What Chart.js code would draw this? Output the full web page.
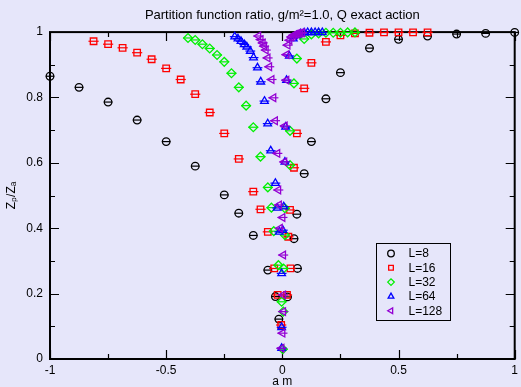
<!DOCTYPE html>
<html>
<head>
<meta charset="utf-8">
<script src="https://cdn.jsdelivr.net/npm/chart.js@4.4.1/dist/chart.umd.min.js"></script>
<style>
html, body { margin: 0; padding: 0; background: #e6e6fa; }
</style>
</head>
<body>
<canvas id="c" width="521" height="387"></canvas>
<script>
'use strict';
const titleText = 'Partition function ratio, g/m\u00b2=1.0, Q exact action';
const seriesLabels = ['L=8', 'L=16', 'L=32', 'L=64', 'L=128'];
const xTickValues = [-1, -0.5, 0, 0.5, 1];
const yTickValues = [0, 0.2, 0.4, 0.6, 0.8, 1];

// a m (x) and Z_p/Z_a (y)
const amL8 = [-1, -0.875, -0.75, -0.625, -0.5, -0.375, -0.25, -0.1875, -0.125, -0.0625, -0.03, -0.015,
	0.022, 0.065, 0.05, 0.0625, 0.094, 0.125, 0.1875, 0.25, 0.375, 0.5, 0.625, 0.75, 0.875, 1];
const zL8 = [0.865, 0.831, 0.786, 0.731, 0.665, 0.59, 0.502, 0.446, 0.378, 0.272, 0.191, 0.122,
	0.19, 0.277, 0.368, 0.443, 0.567, 0.665, 0.796, 0.876, 0.951, 0.978, 0.988, 0.994, 0.996, 0.999];

const amL16 = [-0.8125, -0.75, -0.6875, -0.625, -0.5625, -0.5, -0.4375, -0.375, -0.3125, -0.25, -0.1875,
	-0.125, -0.094, -0.0625, -0.035, -0.02, -0.005, 0.02, 0.035, 0.026, 0.033, 0.05, 0.0625, 0.094, 0.125,
	0.1875, 0.25, 0.3125, 0.375, 0.4375, 0.5, 0.5625, 0.625];
const zL16 = [0.972, 0.963, 0.952, 0.937, 0.917, 0.889, 0.855, 0.81, 0.754, 0.69, 0.612,
	0.512, 0.458, 0.389, 0.277, 0.196, 0.104, 0.196, 0.277, 0.374, 0.456, 0.585, 0.69, 0.828, 0.906,
	0.97, 0.99, 0.996, 0.998, 0.999, 0.999, 0.999, 0.999];

const amL32 = [-0.406, -0.375, -0.344, -0.3125, -0.281, -0.25, -0.219, -0.1875, -0.156, -0.125, -0.094,
	-0.0625, -0.047, -0.037, -0.017, -0.003, 0.004, 0.002, 0.005, 0.011, 0.011, 0.033, 0.033, 0.05, 0.0625,
	0.094, 0.125, 0.156, 0.1875, 0.219, 0.25, 0.281, 0.3125];
const zL32 = [0.982, 0.976, 0.963, 0.95, 0.93, 0.909, 0.874, 0.831, 0.775, 0.709, 0.619,
	0.525, 0.463, 0.391, 0.287, 0.175, 0.145, 0.03, 0.277, 0.379, 0.461, 0.593, 0.698, 0.843, 0.919,
	0.979, 0.993, 0.996, 0.998, 0.998, 0.998, 0.999, 0.999];

const amL64 = [-0.205, -0.191, -0.178, -0.164, -0.153, -0.138, -0.124, -0.107, -0.093, -0.077, -0.063,
	-0.05, -0.03, -0.022, -0.013, -0.003, -0.003, -0.003, 0.002, 0.006, 0.011, 0.014, 0.018, 0.03, 0.047,
	0.062, 0.078, 0.094, 0.109, 0.125, 0.141, 0.156, 0.172];
const zL64 = [0.986, 0.98, 0.972, 0.962, 0.955, 0.942, 0.922, 0.891, 0.848, 0.789, 0.72,
	0.637, 0.538, 0.462, 0.389, 0.262, 0.097, 0.033, 0.394, 0.466, 0.603, 0.71, 0.853, 0.927, 0.98,
	0.99, 0.995, 0.998, 0.999, 0.999, 0.999, 0.999, 0.999];

const amL128 = [-0.103, -0.093, -0.084, -0.078, -0.071, -0.063, -0.056, -0.046, -0.038, -0.031, -0.021,
	-0.017, -0.014, -0.01, 0.001, 0.004, 0.004, 0.004, 0.001, -0.003, 0.009, 0.011, 0.018, 0.018, 0.023,
	0.031, 0.039, 0.047, 0.055, 0.0625, 0.07, 0.078, 0.086];
const zL128 = [0.988, 0.977, 0.967, 0.957, 0.945, 0.921, 0.894, 0.855, 0.799, 0.729, 0.629,
	0.517, 0.471, 0.4, 0.433, 0.318, 0.196, 0.145, 0.079, 0.033, 0.603, 0.713, 0.853, 0.931, 0.96,
	0.975, 0.985, 0.99, 0.993, 0.995, 0.996, 0.997, 0.998];

const colors = ['#000000', '#ff0000', '#00f000', '#0000ff', '#9400d3'];
const styles = ['circle', 'rect', 'rectRot', 'triangle', 'triangle'];
const rotations = [0, 0, 0, 0, -90];
const radii = [3.8, 4.6, 4.4, 4.4, 4.4];
const xs = [amL8, amL16, amL32, amL64, amL128];
const ys = [zL8, zL16, zL32, zL64, zL128];

const FONT = '"Liberation Sans", Arial, sans-serif';
Chart.defaults.font.family = FONT;
Chart.defaults.color = '#000';

const toPts = (a, b) => a.map((v, i) => ({x: v, y: b[i]}));

let datasets = [];
seriesLabels.forEach((lab, i) => {
	const pts = toPts(xs[i], ys[i]);
	datasets.push({
		label: lab,
		data: pts,
		showLine: false,
		pointStyle: styles[i],
		pointRotation: rotations[i],
		pointRadius: radii[i],
		pointBorderColor: colors[i],
		pointBackgroundColor: 'rgba(0,0,0,0)',
		pointBorderWidth: 1.3,
		order: 20 - 2 * i,
		clip: false
	});
	// small horizontal error bars through each point
	datasets.push({
		label: lab + ' err',
		isBar: true,
		data: pts,
		showLine: false,
		pointStyle: 'line',
		pointRadius: radii[i] + 0.5,
		pointBorderColor: colors[i],
		pointBackgroundColor: colors[i],
		pointBorderWidth: 1.2,
		order: 20 - 2 * i,
		clip: false
	});
});

const frame = {
	id: 'frame',
	beforeDatasetsDraw(chart) {
		const {ctx, chartArea: a, scales: {x, y}} = chart;
		ctx.save();
		ctx.strokeStyle = '#000';
		ctx.lineWidth = 1.2;
		const mids = v => v.slice(1).map((t, i) => (t + v[i]) / 2);
		const xt = (vals, len) => vals.forEach(v => {
			const p = Math.round(x.getPixelForValue(v)) + 0.5;
			ctx.beginPath();
			ctx.moveTo(p, a.bottom); ctx.lineTo(p, a.bottom - len);
			ctx.moveTo(p, a.top); ctx.lineTo(p, a.top + len);
			ctx.stroke();
		});
		const yt = (vals, len) => vals.forEach(v => {
			const p = Math.round(y.getPixelForValue(v)) + 0.5;
			ctx.beginPath();
			ctx.moveTo(a.left, p); ctx.lineTo(a.left + len, p);
			ctx.moveTo(a.right, p); ctx.lineTo(a.right - len, p);
			ctx.stroke();
		});
		xt(xTickValues, 9); xt(mids(xTickValues), 5);
		yt(yTickValues, 9); yt(mids(yTickValues), 5);
		ctx.lineWidth = 2;
		ctx.strokeRect(a.left, a.top, a.right - a.left, a.bottom - a.top);
		ctx.restore();
	}
};

const boxLegend = {
	id: 'boxLegend',
	afterDraw(chart) {
		const {ctx, chartArea: a} = chart;
		const sets = chart.data.datasets.filter(d => !d.isBar);
		const left = Math.round(a.left + 0.701 * (a.right - a.left)) + 0.5;
		const top = Math.round(a.top + 0.646 * (a.bottom - a.top)) + 0.5;
		ctx.save();
		ctx.strokeStyle = '#000';
		ctx.lineWidth = 1;
		ctx.strokeRect(left, top, 74, 77);
		ctx.font = '12px ' + FONT;
		ctx.textBaseline = 'middle';
		sets.forEach((d, i) => {
			const cy = top + 10 + i * 14.3;
			ctx.fillStyle = 'rgba(0,0,0,0)';
			ctx.strokeStyle = d.pointBorderColor;
			ctx.lineWidth = 1.3;
			Chart.helpers.drawPoint(ctx, {pointStyle: d.pointStyle, radius: 3.3, rotation: d.pointRotation, borderWidth: 1.3}, left + 14.5, cy);
			ctx.fillStyle = '#000';
			ctx.fillText(d.label, left + 32, cy + 0.5);
		});
		ctx.restore();
	}
};

const plainTick = v => String(Math.round(v * 100) / 100);

new Chart(document.getElementById('c'), {
	type: 'scatter',
	data: {datasets: datasets},
	plugins: [frame, boxLegend],
	options: {
		responsive: false,
		animation: false,
		events: [],
		layout: {padding: {top: 0, right: 2, left: 0, bottom: 0}},
		plugins: {
			legend: {display: false},
			tooltip: {enabled: false},
			title: {
				display: true,
				text: titleText,
				fullSize: false,
				color: '#000',
				font: {size: 13, weight: 'normal'},
				padding: {top: 8, bottom: 8.5}
			}
		},
		scales: {
			x: {
				type: 'linear',
				min: -1, max: 1,
				afterBuildTicks: s => { s.ticks = xTickValues.map(v => ({value: v})); },
				afterFit: s => { s.height = 28; s.paddingLeft = 0; s.paddingRight = 0; },
				grid: {display: false, drawTicks: false},
				border: {display: false},
				ticks: {padding: 4, maxRotation: 0, autoSkip: false, color: '#000', font: {size: 12}, callback: plainTick},
				title: {display: true, text: 'a m', color: '#000', font: {size: 12}, padding: {top: 0, bottom: -2}}
			},
			y: {
				type: 'linear',
				min: 0, max: 1,
				afterBuildTicks: s => { s.ticks = yTickValues.map(v => ({value: v})); },
				afterFit: s => { s.width = 50; s.paddingTop = 0; s.paddingBottom = 0; },
				grid: {display: false, drawTicks: false},
				border: {display: false},
				ticks: {padding: 7, autoSkip: false, color: '#000', font: {size: 12}, callback: plainTick},
				title: {display: true, text: 'Z\u209a/Z\u2090', color: '#000', font: {size: 12}, padding: 4}
			}
		}
	}
});
</script>
</body>
</html>
